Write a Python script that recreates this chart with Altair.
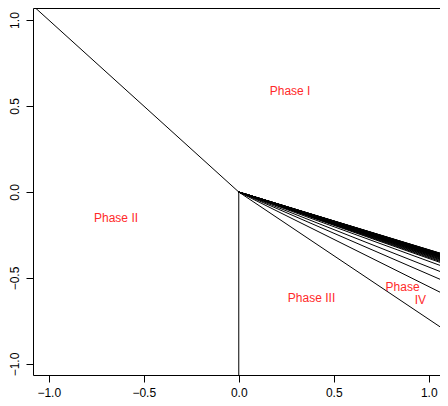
import altair as alt
import pandas as pd

# ---- data ----
x_ticks = [-1.0, -0.5, 0.0, 0.5, 1.0]
y_ticks = [-1.0, -0.5, 0.0, 0.5, 1.0]

# boundary segments starting at the origin (end points, clipped by the plot box)
boundary_x_end = [-1.1, 0.0]
boundary_y_end = [1.1, -1.1]

# fan of lines from the origin: y value reached at x = 1.1
fan_x_end = 1.1
fan_y_end = [-0.814, -0.605, -0.527, -0.480, -0.443, -0.425,
             -0.419, -0.414, -0.409, -0.405, -0.402, -0.398, -0.395,
             -0.393, -0.391, -0.388, -0.386, -0.384, -0.382, -0.381,
             -0.378, -0.377, -0.376, -0.374, -0.373, -0.372, -0.371,
             -0.370, -0.369]

label_text = ["Phase I", "Phase II", "Phase III", "Phase", "IV"]
label_x = [0.27, -0.646, 0.383, 0.862, 0.956]
label_y = [0.59, -0.151, -0.616, -0.552, -0.628]

x_domain = [-1.083, 1.059]
y_domain = [-1.064, 1.07]

# ---- tables ----
seg_x1 = boundary_x_end + [fan_x_end] * len(fan_y_end)
seg_y1 = boundary_y_end + fan_y_end
segs = pd.DataFrame({
    "x0": [0.0] * len(seg_x1),
    "y0": [0.0] * len(seg_x1),
    "x1": seg_x1,
    "y1": seg_y1,
})
labels = pd.DataFrame({"text": label_text, "x": label_x, "y": label_y})

FONT = "Liberation Sans"

xscale = alt.Scale(domain=x_domain, nice=False, zero=False)
yscale = alt.Scale(domain=y_domain, nice=False, zero=False)

rules = alt.Chart(segs).mark_rule(clip=True, color="black", strokeWidth=1).encode(
    x=alt.X("x0:Q", scale=xscale,
            axis=alt.Axis(values=x_ticks, format=".1f", title=None, orient="bottom",
                          labelPadding=5)),
    x2="x1:Q",
    y=alt.Y("y0:Q", scale=yscale,
            axis=alt.Axis(values=y_ticks, format=".1f", title=None, orient="left",
                          labelAngle=-90, labelAlign="center",
                          labelBaseline="alphabetic", labelPadding=8)),
    y2="y1:Q",
)

texts = alt.Chart(labels).mark_text(
    color="#ff2a2a", fontSize=12, font=FONT, align="center", baseline="middle"
).encode(
    x=alt.X("x:Q", scale=xscale,
            axis=alt.Axis(orient="top", labels=False, ticks=False, domain=True,
                          title=None, values=x_ticks)),
    y=alt.Y("y:Q", scale=yscale, axis=None),
    text="text:N",
)

chart = (
    alt.layer(rules, texts)
    .resolve_axis(x="independent", y="independent")
    .properties(
        width=407,
        height=367,
        autosize="none",
        padding={"left": 25, "top": 0, "right": 0, "bottom": 23},
        background="white",
    )
    .configure_view(stroke=None)
    .configure_axis(
        grid=False,
        tickSize=7,
        tickColor="black",
        domainColor="black",
        domainWidth=1,
        tickWidth=1,
        labelFont=FONT,
        labelFontSize=12,
        labelColor="black",
    )
)

chart.save("out.html", embed_options={"renderer": "svg", "actions": False})
